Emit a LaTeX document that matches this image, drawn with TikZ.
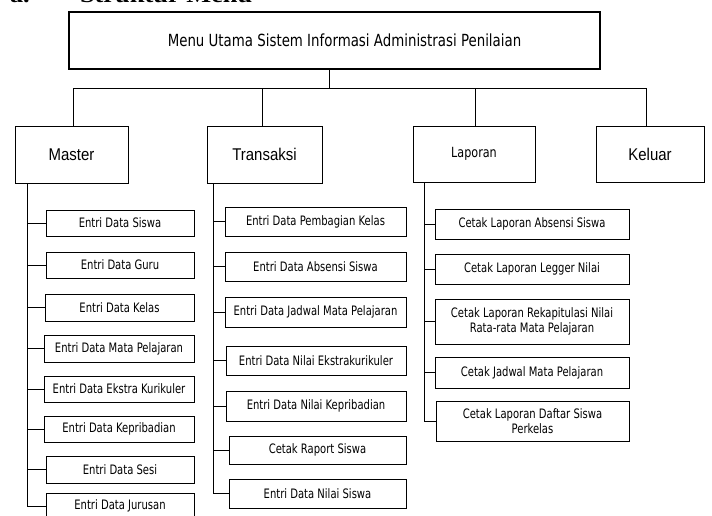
\documentclass[tikz,border=0pt]{standalone}
\usepackage{fontspec}
\newfontfamily\boxfont[FakeStretch=0.8]{DejaVu Sans}
\newfontfamily\itemfont[FakeStretch=0.77]{DejaVu Sans}
\newfontfamily\catfont[FakeStretch=0.88]{Liberation Sans}
\newfontfamily\headfont[FakeStretch=1.2]{Liberation Serif}
\begin{document}
\begin{tikzpicture}[x=1pt,y=-1pt,
  every node/.style={inner sep=0pt, outer sep=0pt},
  mainbox/.style={draw, line width=2.5pt, anchor=north west,
    font=\boxfont\fontsize{16.7}{18}\selectfont},
  catbox/.style={draw, line width=1pt, anchor=north west,
    font=\catfont\fontsize{17}{19}\selectfont},
  repbox/.style={draw, line width=1pt, anchor=north west,
    font=\boxfont\fontsize{14}{16}\selectfont},
  entry/.style={draw, line width=1pt, anchor=north west, align=center,
    font=\itemfont\fontsize{13}{14.5}\selectfont},
  heading/.style={anchor=base west, font=\headfont\bfseries\fontsize{22}{24}\selectfont},
  link/.style={line width=1pt}]
\useasboundingbox (0,0) rectangle (712,515);
\clip (0,0) rectangle (712,515);

% section heading above the chart
\node[heading] (hda) at (10,2.5) {a.};
\node[heading] (hdb) at (80,2.5) {Struktur Menu};

% main menu
\node[mainbox, minimum width=531, minimum height=57] (top) at (69,12)
  {\hspace*{20pt}Menu Utama Sistem Informasi Administrasi Penilaian};

% first level
\node[catbox, minimum width=113, minimum height=57] (master) at (15,126) {Master};
\node[catbox, minimum width=115, minimum height=57] (trans) at (207,126) {Transaksi};
\node[repbox, minimum width=122, minimum height=56] (lap) at (413,126) {Laporan};
\node[catbox, minimum width=108, minimum height=56] (kel) at (596,126) {Keluar};

% bus between main menu and first level
\coordinate (j0) at (329,88);
\coordinate (busM) at (73,88);
\coordinate (busT) at (262,88);
\coordinate (busL) at (475,88);
\coordinate (busK) at (646,88);
\draw[link] (top.south -| j0) -- (j0);
\draw[link] (busM) -- (busK);
\draw[link] (busM) -- (busM |- master.north);
\draw[link] (busT) -- (busT |- trans.north);
\draw[link] (busL) -- (busL |- lap.north);
\draw[link] (busK) -- (busK |- kel.north);

% Master items
\node[entry, minimum width=148, minimum height=26] (m1) at (46,210) {Entri Data Siswa};
\node[entry, minimum width=148, minimum height=26] (m2) at (46,252) {Entri Data Guru};
\node[entry, minimum width=149, minimum height=27] (m3) at (45,294) {Entri Data Kelas};
\node[entry, minimum width=150, minimum height=27] (m4) at (44,335) {Entri Data Mata Pelajaran};
\node[entry, minimum width=150, minimum height=26] (m5) at (44,376) {Entri Data Ekstra Kurikuler};
\node[entry, minimum width=150, minimum height=26] (m6) at (44,416) {Entri Data Kepribadian};
\node[entry, minimum width=148, minimum height=27] (m7) at (46,456) {Entri Data Sesi};
\node[entry, minimum width=148, minimum height=26] (m8) at (46,493) {Entri Data Jurusan};

\coordinate (ms) at (27,183);
\draw[link] (ms) |- (m8.west);
\foreach \i in {1,...,7} { \draw[link] (ms |- m\i.west) -- (m\i.west); }

% Transaksi items
\node[entry, minimum width=181, minimum height=29] (t1) at (225,207) {Entri Data Pembagian Kelas};
\node[entry, minimum width=181, minimum height=29] (t2) at (225,252) {Entri Data Absensi Siswa};
\node[entry, minimum width=181, minimum height=30] (t3) at (225,297) {Entri Data Jadwal Mata Pelajaran};
\node[entry, minimum width=180, minimum height=29] (t4) at (226,346) {Entri Data Nilai Ekstrakurikuler};
\node[entry, minimum width=180, minimum height=30] (t5) at (226,391) {Entri Data Nilai Kepribadian};
\node[entry, minimum width=177, minimum height=28] (t6) at (229,436) {Cetak Raport Siswa};
\node[entry, minimum width=177, minimum height=29] (t7) at (229,479) {Entri Data Nilai Siswa};

\coordinate (ts) at (213,183);
\draw[link] (ts) |- (t7.west);
\foreach \i in {1,...,6} { \draw[link] (ts |- t\i.west) -- (t\i.west); }

% Laporan items
\node[entry, minimum width=194, minimum height=30] (l1) at (435,209) {Cetak Laporan Absensi Siswa};
\node[entry, minimum width=194, minimum height=30] (l2) at (435,254) {Cetak Laporan Legger Nilai};
\node[entry, minimum width=194, minimum height=45] (l3) at (435,299) {Cetak Laporan Rekapitulasi Nilai\\Rata-rata Mata Pelajaran};
\node[entry, minimum width=194, minimum height=31] (l4) at (435,357) {Cetak Jadwal Mata Pelajaran};
\node[entry, minimum width=193, minimum height=40] (l5) at (436,401) {Cetak Laporan Daftar Siswa\\Perkelas};

\coordinate (ls) at (424,182);
\draw[link] (ls) |- (l5.west);
\foreach \i in {1,...,4} { \draw[link] (ls |- l\i.west) -- (l\i.west); }
\end{tikzpicture}
\end{document}
